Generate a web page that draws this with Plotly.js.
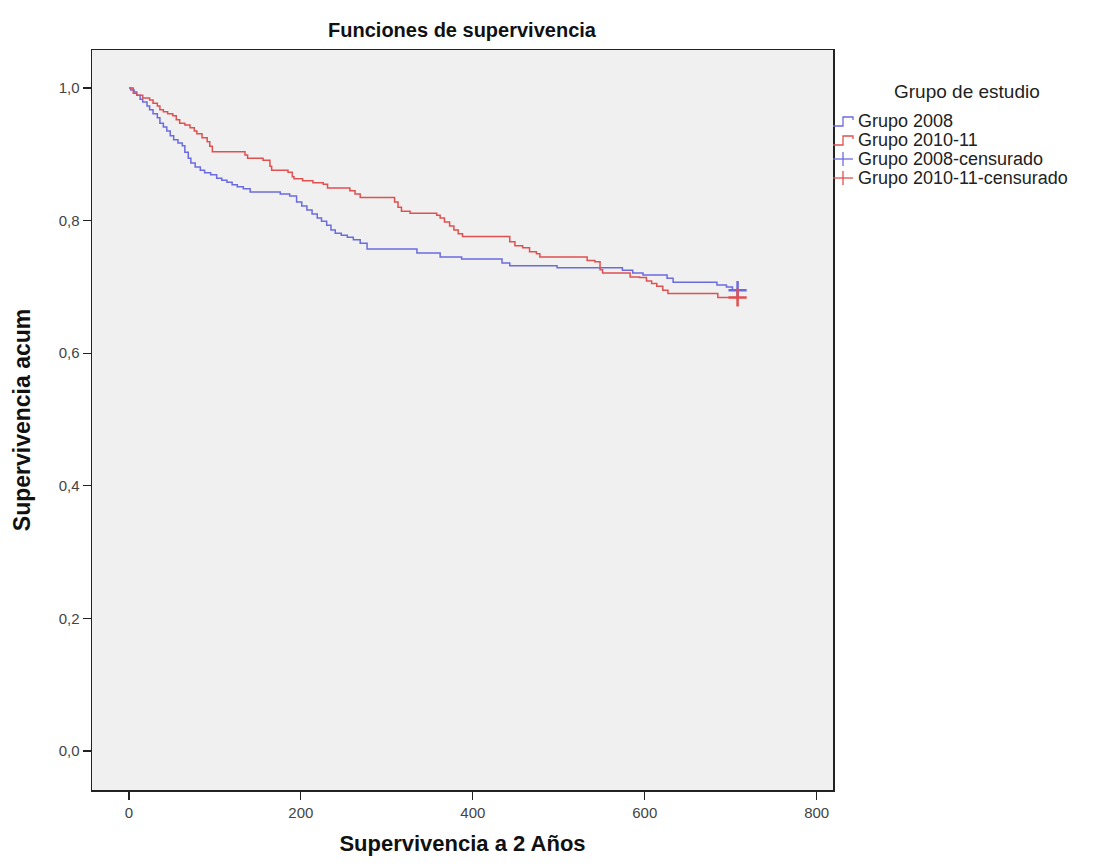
<!DOCTYPE html>
<html>
<head>
<meta charset="utf-8">
<script src="https://cdn.plot.ly/plotly-3.0.1.min.js"></script>
<style>html,body{margin:0;padding:0;background:#fff;}#chart{width:1110px;height:867px;}</style>
</head>
<body>
<div id="chart"></div>
<script>
// ---- Data ----
const groupNames = ["Grupo 2008", "Grupo 2010-11", "Grupo 2008-censurado", "Grupo 2010-11-censurado"];
const legendTitle = "Grupo de estudio";

// Kaplan-Meier step points: time (days) and cumulative survival after each event
const time2008 = [0, 2, 6, 9, 13, 16, 21, 24, 28, 33, 36, 40, 44, 48, 52, 57, 62, 65, 69, 72, 77, 83, 88, 95, 102, 108, 114, 120, 126, 133, 141, 176, 187, 195, 201, 207, 213, 219, 224, 230, 235, 240, 247, 254, 261, 269, 277, 335, 362, 387, 434, 443, 498, 574, 586, 598, 626, 633, 684, 695, 702, 708];
const surv2008 = [1.000, 0.997, 0.994, 0.989, 0.983, 0.979, 0.973, 0.967, 0.961, 0.955, 0.947, 0.941, 0.935, 0.928, 0.922, 0.917, 0.913, 0.903, 0.894, 0.887, 0.881, 0.876, 0.872, 0.869, 0.864, 0.861, 0.858, 0.854, 0.851, 0.848, 0.843, 0.840, 0.837, 0.828, 0.822, 0.816, 0.810, 0.804, 0.799, 0.793, 0.786, 0.781, 0.778, 0.775, 0.771, 0.766, 0.757, 0.751, 0.745, 0.742, 0.736, 0.732, 0.729, 0.725, 0.721, 0.718, 0.713, 0.707, 0.703, 0.700, 0.695, 0.695];

const time2010 = [0, 5, 9, 16, 24, 28, 33, 36, 40, 45, 51, 55, 59, 65, 71, 76, 79, 85, 91, 94, 97, 135, 138, 156, 164, 166, 185, 190, 192, 202, 214, 226, 231, 257, 263, 269, 309, 313, 317, 327, 358, 362, 367, 373, 378, 383, 388, 443, 449, 458, 466, 474, 478, 533, 542, 548, 551, 583, 594, 602, 608, 614, 621, 627, 685, 708];
const surv2010 = [1.000, 0.992, 0.989, 0.985, 0.982, 0.977, 0.973, 0.967, 0.964, 0.961, 0.958, 0.952, 0.947, 0.944, 0.940, 0.935, 0.931, 0.925, 0.919, 0.912, 0.904, 0.899, 0.894, 0.891, 0.882, 0.876, 0.873, 0.866, 0.863, 0.860, 0.857, 0.855, 0.849, 0.845, 0.840, 0.835, 0.828, 0.820, 0.814, 0.811, 0.808, 0.804, 0.798, 0.792, 0.786, 0.780, 0.776, 0.768, 0.762, 0.759, 0.753, 0.750, 0.745, 0.740, 0.738, 0.726, 0.721, 0.715, 0.714, 0.709, 0.705, 0.701, 0.695, 0.690, 0.684, 0.684];

// Censored observations
const censTime2008 = [708];
const censSurv2008 = [0.695];
const censTime2010 = [708];
const censSurv2010 = [0.684];

// Axis ticks
const xTicks = [0, 200, 400, 600, 800];
const yTicks = [0.0, 0.2, 0.4, 0.6, 0.8, 1.0];

// ---- Styles ----
const BLUE = "#6b6be0";
const RED = "#e05050";
const FONT = "Liberation Sans, Arial, sans-serif";

// plot area in pixels
const PL = 92, PR = 833, PT = 50, PB = 790;
const px = x => (x - PL) / (PR - PL);
const py = y => (PB - y) / (PB - PT);

const traces = [
  {x: time2008, y: surv2008, mode: "lines", line: {shape: "hv", color: BLUE, width: 1.5}, name: groupNames[0], showlegend: false},
  {x: time2010, y: surv2010, mode: "lines", line: {shape: "hv", color: RED, width: 1.5}, name: groupNames[1], showlegend: false},
  {x: censTime2008, y: censSurv2008, mode: "markers", marker: {symbol: "cross-thin", size: 13, line: {color: BLUE, width: 2.5}}, name: groupNames[2], showlegend: false},
  {x: censTime2010, y: censSurv2010, mode: "markers", marker: {symbol: "cross-thin", size: 13, line: {color: RED, width: 2.5}}, name: groupNames[3], showlegend: false}
];

// custom legend (symbols as shapes, labels as text)
const legTop = 121, legStep = 19, textX = 856, symL = 833, symR = 853, symMid = 843;
const shapes = [];
const annotations = [];
annotations.push({xref: "paper", yref: "paper", x: px(967), y: py(92), text: legendTitle, showarrow: false,
  xanchor: "center", yanchor: "middle", font: {family: FONT, size: 19, color: "#222"}});
const legColors = [BLUE, RED, BLUE, RED];
groupNames.forEach((name, i) => {
  const yc = legTop + i * legStep;
  annotations.push({xref: "paper", yref: "paper", x: px(textX), y: py(yc), text: name, showarrow: false,
    xanchor: "left", yanchor: "middle", font: {family: FONT, size: 18, color: "#222"}});
  if (i < 2) {
    shapes.push({type: "path", xref: "paper", yref: "paper",
      path: `M ${px(symL)} ${py(yc + 5)} L ${px(symMid)} ${py(yc + 5)} L ${px(symMid)} ${py(yc - 4)} L ${px(symR)} ${py(yc - 4)} L ${px(symR)} ${py(yc - 1)}`,
      line: {color: legColors[i], width: 1.3}});
  } else {
    shapes.push({type: "line", xref: "paper", yref: "paper", x0: px(symL), x1: px(symR), y0: py(yc), y1: py(yc),
      line: {color: legColors[i], width: 1.3}});
    shapes.push({type: "line", xref: "paper", yref: "paper", x0: px(symMid), x1: px(symMid), y0: py(yc - 7), y1: py(yc + 7),
      line: {color: legColors[i], width: 1.3}});
  }
});

const layout = {
  width: 1110, height: 867,
  paper_bgcolor: "#ffffff",
  plot_bgcolor: "#f0f0f0",
  separators: ", ",
  margin: {l: PL, r: 1110 - PR, t: PT, b: 867 - PB, pad: 0},
  showlegend: false,
  title: {text: "<b>Funciones de supervivencia</b>", x: 462 / 1110, xanchor: "center", y: 1 - 30 / 867, yanchor: "middle",
    font: {family: FONT, size: 20, color: "#111"}},
  xaxis: {
    range: [-43, 819], tickvals: xTicks, ticktext: xTicks.map(String),
    showgrid: false, zeroline: false, showline: true, mirror: true, linecolor: "#222", linewidth: 1.5,
    ticks: "outside", ticklen: 8, tickwidth: 1.2, tickcolor: "#222",
    tickfont: {family: FONT, size: 15, color: "#444"},
    title: {text: "<b>Supervivencia a 2 Años</b>", standoff: 16, font: {family: FONT, size: 22, color: "#111"}}
  },
  yaxis: {
    range: [-0.0588, 1.0573], tickvals: yTicks, ticktext: yTicks.map(v => v.toFixed(1).replace(".", ",")),
    showgrid: false, zeroline: false, showline: true, mirror: true, linecolor: "#222", linewidth: 1.5,
    ticks: "outside", ticklen: 8, tickwidth: 1.2, tickcolor: "#222",
    tickfont: {family: FONT, size: 15, color: "#444"},
    title: {text: "<b>Supervivencia acum</b>", standoff: 21, font: {family: FONT, size: 23, color: "#111"}}
  },
  shapes: shapes,
  annotations: annotations
};

Plotly.newPlot("chart", traces, layout, {displayModeBar: false, staticPlot: true});
</script>
</body>
</html>
